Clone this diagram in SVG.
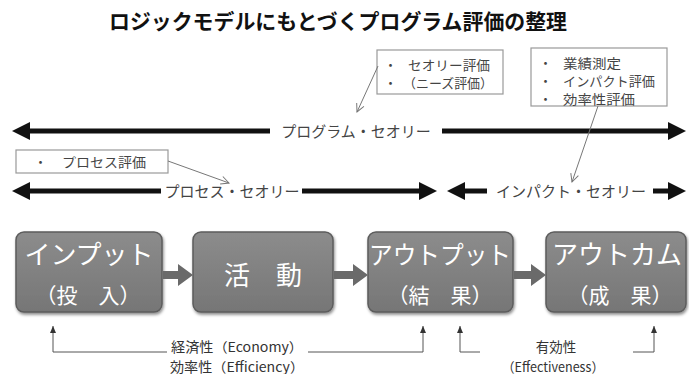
<svg xmlns="http://www.w3.org/2000/svg" width="689" height="374" viewBox="0 0 689 374">
<defs>
<style>
.t{font-family:"Noto Sans CJK JP","Noto Sans",sans-serif;}
.title{font-size:21px;font-weight:bold;fill:#111;text-anchor:middle;}
.lbl{font-size:15px;fill:#444;text-anchor:middle;}
.note{font-size:13px;fill:#444;}
.nbox{fill:#fff;stroke:#999;stroke-width:1.2;}
.thick{stroke:#111;stroke-width:5;fill:none;}
.ptr{stroke:#777;stroke-width:1;fill:none;}
.brk{stroke:#555;stroke-width:1;fill:none;}
.box{fill:url(#g);stroke:#5c5c5c;stroke-width:1.5;}
.btxt{fill:#fff;text-anchor:middle;}
.blk{fill:#6a6a6a;}
.blbl{font-size:13.5px;fill:#333;text-anchor:middle;}
</style>
<marker id="big" viewBox="0 0 18 18" refX="2" refY="9" markerWidth="18" markerHeight="18" orient="auto-start-reverse" markerUnits="userSpaceOnUse">
<path d="M0,0 L18,9 L0,18 z" fill="#111"/>
</marker>
<marker id="open" viewBox="0 0 10 10" refX="9" refY="5" markerWidth="10" markerHeight="10" orient="auto" markerUnits="userSpaceOnUse">
<path d="M1,1 L9,5 L1,9" fill="none" stroke="#777" stroke-width="1"/>
</marker>
<marker id="small" viewBox="0 0 6 8" refX="3" refY="0" markerWidth="6" markerHeight="8" orient="0" markerUnits="userSpaceOnUse">
<path d="M0,7 L3,0 L6,7 z" fill="#333"/>
</marker>
<filter id="sh" x="-10%" y="-10%" width="125%" height="130%">
<feDropShadow dx="1" dy="2" stdDeviation="1.5" flood-color="#000" flood-opacity="0.45"/>
</filter>
<linearGradient id="g" x1="0" y1="0" x2="0" y2="1">
<stop offset="0" stop-color="#8c8c8c"/>
<stop offset="1" stop-color="#767676"/>
</linearGradient>
</defs>

<rect width="689" height="374" fill="#fff"/>

<text class="t title" x="338" y="29" textLength="458" lengthAdjust="spacingAndGlyphs">ロジックモデルにもとづくプログラム評価の整理</text>

<g id="note-theory">
<rect class="nbox" x="377" y="50" width="126" height="44"/>
<text class="t note" x="384" y="70">・</text>
<text class="t note" x="408" y="70" textLength="82" lengthAdjust="spacingAndGlyphs">セオリー評価</text>
<text class="t note" x="384" y="88">・</text>
<text class="t note" x="403" y="88" textLength="90" lengthAdjust="spacingAndGlyphs">（ニーズ評価）</text>
</g>

<g id="note-impact">
<rect class="nbox" x="531" y="48" width="136" height="58"/>
<text class="t note" x="539" y="68">・</text>
<text class="t note" x="563" y="68" textLength="58" lengthAdjust="spacingAndGlyphs">業績測定</text>
<text class="t note" x="539" y="86">・</text>
<text class="t note" x="563" y="86" textLength="92" lengthAdjust="spacingAndGlyphs">インパクト評価</text>
<text class="t note" x="539" y="104">・</text>
<text class="t note" x="563" y="104" textLength="72" lengthAdjust="spacingAndGlyphs">効率性評価</text>
</g>

<g id="note-process">
<rect class="nbox" x="16" y="150" width="152" height="23"/>
<text class="t note" x="34" y="167">・</text>
<text class="t note" x="62" y="167" textLength="84" lengthAdjust="spacingAndGlyphs">プロセス評価</text>
</g>

<g id="label-program">
<text class="t lbl" x="356" y="137">プログラム・セオリー</text>
</g>
<g id="label-process">
<text class="t lbl" x="232" y="197">プロセス・セオリー</text>
</g>
<g id="label-impact">
<text class="t lbl" x="571" y="197">インパクト・セオリー</text>
</g>

<g id="box-input">
<rect class="box" filter="url(#sh)" x="16" y="232" width="146" height="80" rx="8"/>
<text class="t btxt" x="89" y="264" font-size="26">インプット</text>
<text class="t btxt" x="88" y="303" font-size="21">（投　入）</text>
</g>
<g id="box-activity">
<rect class="box" filter="url(#sh)" x="193" y="232" width="140" height="80" rx="8"/>
<text class="t btxt" x="263" y="285" font-size="26">活　動</text>
</g>
<g id="box-output">
<rect class="box" filter="url(#sh)" x="368" y="232" width="145" height="80" rx="8"/>
<text class="t btxt" x="440" y="264" font-size="25" textLength="142" lengthAdjust="spacingAndGlyphs">アウトプット</text>
<text class="t btxt" x="440" y="303" font-size="21">（結　果）</text>
</g>
<g id="box-outcome">
<rect class="box" filter="url(#sh)" x="546" y="232" width="140" height="80" rx="8"/>
<text class="t btxt" x="617" y="264" font-size="26">アウトカム</text>
<text class="t btxt" x="620" y="303" font-size="21">（成　果）</text>
</g>

<g id="connectors">
<line class="thick" x1="28" y1="131" x2="270" y2="131" marker-start="url(#big)"/>
<line class="thick" x1="442" y1="131" x2="670" y2="131" marker-end="url(#big)"/>
<line class="thick" x1="28" y1="191" x2="161" y2="191" marker-start="url(#big)"/>
<line class="thick" x1="302" y1="191" x2="421" y2="191" marker-end="url(#big)"/>
<line class="thick" x1="463" y1="191" x2="487" y2="191" marker-start="url(#big)"/>
<line class="thick" x1="653" y1="191" x2="670" y2="191" marker-end="url(#big)"/>

<line class="ptr" x1="378" y1="66" x2="357" y2="112" marker-end="url(#open)"/>
<line class="ptr" x1="598" y1="106" x2="572" y2="182" marker-end="url(#open)"/>
<line class="ptr" x1="168" y1="161" x2="229" y2="183" marker-end="url(#open)"/>

<polygon class="blk" points="163,271 178,271 178,264 193,275 178,286 178,279 163,279"/>
<polygon class="blk" points="334,271 353,271 353,264 368,275 353,286 353,279 334,279"/>
<polygon class="blk" points="514,271 531,271 531,264 546,275 531,286 531,279 514,279"/>

<polyline class="brk" points="167,352 53,352 53,326" marker-end="url(#small)"/>
<polyline class="brk" points="308,352 423,352 423,326" marker-end="url(#small)"/>
<polyline class="brk" points="480,352 460,352 460,326" marker-end="url(#small)"/>
<polyline class="brk" points="633,352 654,352 654,326" marker-end="url(#small)"/>
</g>

<g id="bracket-labels">
<text class="t blbl" x="237" y="352" textLength="132" lengthAdjust="spacingAndGlyphs">経済性（Economy）</text>
<text class="t blbl" x="237" y="371.5" textLength="134" lengthAdjust="spacingAndGlyphs">効率性（Efficiency）</text>
<text class="t blbl" x="556" y="352">有効性</text>
<text class="t blbl" x="553" y="371.5" textLength="102" lengthAdjust="spacingAndGlyphs">（Effectiveness）</text>
</g>
</svg>
